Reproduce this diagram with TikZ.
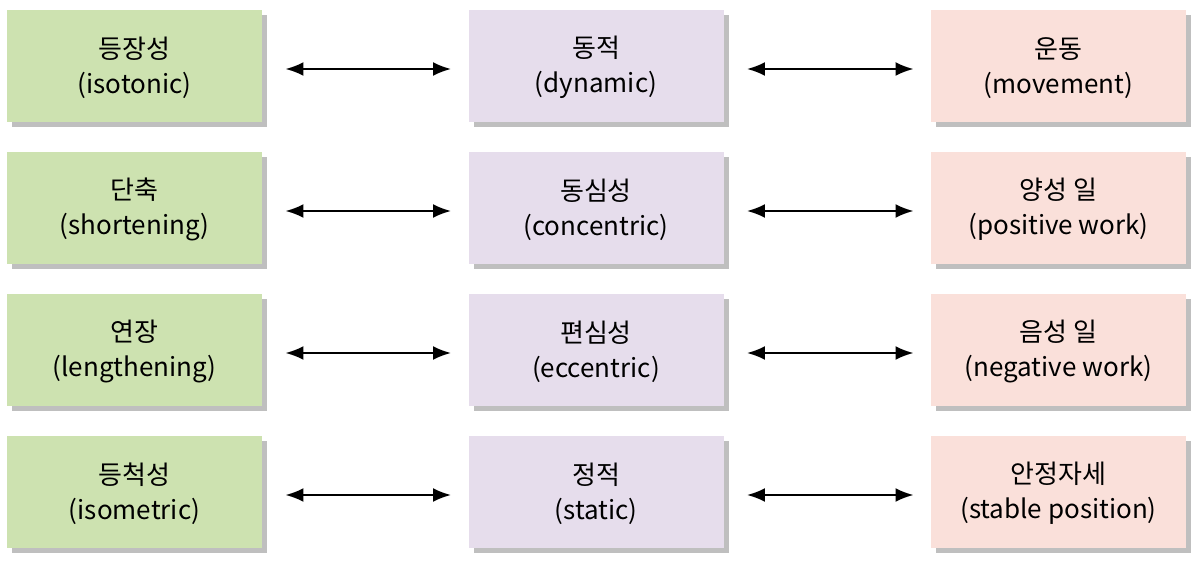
\documentclass[tikz,border=0pt]{standalone}
\usepackage{fontspec}
\setmainfont{Noto Sans CJK KR}
\usetikzlibrary{arrows.meta}
\begin{document}
\begin{tikzpicture}[x=0.5pt,y=-0.5pt,
  box/.style={minimum width=127.5pt,minimum height=56pt,inner sep=0pt,align=center,
    font=\fontsize{13pt}{17.5pt}\selectfont,
    preaction={fill=black!25,transform canvas={xshift=2.5pt,yshift=-2.5pt}}},
  g/.style={box,fill={rgb,255:red,205;green,226;blue,176}},
  p/.style={box,fill={rgb,255:red,230;green,221;blue,236}},
  r/.style={box,fill={rgb,255:red,250;green,224;blue,218}},
  ar/.style={{Latex[length=9pt,width=7pt]}-{Latex[length=9pt,width=7pt]},line width=1.2pt}]
\useasboundingbox (0,0) rectangle (1200,566);
\foreach \i/\y/\a/\b/\c in {
 1/66/{등장성\\(isotonic)}/{동적\\(dynamic)}/{운동\\(movement)},
 2/208/{단축\\(shortening)}/{동심성\\(concentric)}/{양성 일\\(positive work)},
 3/350/{연장\\(lengthening)}/{편심성\\(eccentric)}/{음성 일\\(negative work)},
 4/492/{등척성\\(isometric)}/{정적\\(static)}/{안정자세\\(stable position)}}{
 \node[g] (a\i) at (134.5,\y) {\strut\a};
 \node[p] (b\i) at (596,\y) {\strut\b};
 \node[r] (c\i) at (1058.5,\y) {\strut\c};
 \draw[ar] ([xshift=11.5pt,yshift=-1.5pt]a\i.east) -- ([xshift=-8.5pt,yshift=-1.5pt]b\i.west);
 \draw[ar] ([xshift=11.5pt,yshift=-1.5pt]b\i.east) -- ([xshift=-8.5pt,yshift=-1.5pt]c\i.west);
}
\end{tikzpicture}
\end{document}
